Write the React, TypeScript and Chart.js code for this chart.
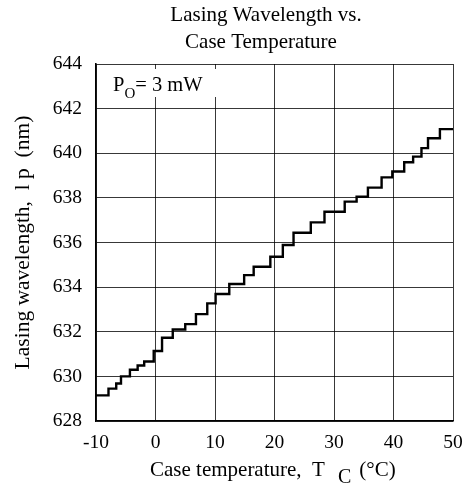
import React, { useEffect, useRef } from "react";
import { Chart, registerables } from "chart.js";

Chart.register(...registerables);

// Step start temperatures (°C) and the wavelength (nm) held from that point on
const temperatures = [
  -10, -7.9, -6.6, -5.8, -4.3, -3.0, -1.9, -0.3, 1.1, 2.9, 5.0, 6.8, 8.7, 10.1,
  12.4, 14.9, 16.5, 19.3, 21.4, 23.2, 26.1, 28.4, 31.8, 33.8, 35.7, 38.0, 39.8,
  41.8, 43.3, 44.7, 45.8, 47.8, 50,
];
const wavelengths = [
  629.15, 629.45, 629.68, 630.0, 630.3, 630.49, 630.67, 631.14, 631.73, 632.1,
  632.34, 632.79, 633.27, 633.69, 634.14, 634.54, 634.91, 635.36, 635.89, 636.44,
  636.9, 637.38, 637.83, 638.05, 638.46, 638.92, 639.18, 639.6, 639.85, 640.23,
  640.67, 641.08, 641.08,
];

const xMin = -10;
const xMax = 50;
const xStep = 10;
const yMin = 628;
const yMax = 644;
const yStep = 2;

const titleLines = ["Lasing Wavelength vs.", "Case Temperature"];
const yAxisTitle = "Lasing wavelength,  l p  (nm)";
const xAxisTitleMain = "Case temperature,  T";
const xAxisTitleSub = "C";
const xAxisTitleTail = "(°C)";
const annotationMain = "P";
const annotationSub = "O";
const annotationTail = "= 3 mW";

const FONT = '"Liberation Serif", "Times New Roman", serif';

export default function App() {
  const ref = useRef<HTMLCanvasElement>(null);

  useEffect(() => {
    if (!ref.current) return;

    const overlay = {
      id: "overlay",
      afterDraw(chart: any) {
        const ctx = chart.ctx as CanvasRenderingContext2D;
        const area = chart.chartArea;
        ctx.save();
        ctx.fillStyle = "#000";

        // Title
        ctx.font = `21px ${FONT}`;
        ctx.textAlign = "center";
        ctx.textBaseline = "alphabetic";
        ctx.fillText(titleLines[0], 266, 21);
        ctx.fillText(titleLines[1], 261, 47.5);

        // Annotation box
        ctx.fillStyle = "#fff";
        ctx.fillRect(area.left + 1.5, area.top + 5, 121, 28);
        ctx.fillStyle = "#000";
        ctx.textAlign = "left";
        ctx.font = `20.5px ${FONT}`;
        ctx.fillText(annotationMain, 113, 91);
        const pw = ctx.measureText(annotationMain).width;
        ctx.font = `15px ${FONT}`;
        ctx.fillText(annotationSub, 113 + pw, 97.5);
        const ow = ctx.measureText(annotationSub).width;
        ctx.font = `20.5px ${FONT}`;
        ctx.fillText(annotationTail, 113 + pw + ow, 91);

        // X axis title
        ctx.font = `21px ${FONT}`;
        ctx.fillText(xAxisTitleMain, 150, 476);
        const mw = ctx.measureText(xAxisTitleMain).width;
        ctx.font = `20px ${FONT}`;
        const cx = 150 + mw + 13;
        ctx.fillText(xAxisTitleSub, cx, 483);
        const sw = ctx.measureText(xAxisTitleSub).width;
        ctx.font = `21px ${FONT}`;
        ctx.fillText(xAxisTitleTail, cx + sw + 8, 476);

        // Y axis title
        ctx.translate(29, (area.top + area.bottom) / 2);
        ctx.rotate(-Math.PI / 2);
        ctx.textAlign = "center";
        ctx.font = `21.5px ${FONT}`;
        ctx.fillText(yAxisTitle, 0, 0);
        ctx.restore();
      },
    };

    const chart = new Chart(ref.current, {
      type: "line",
      data: {
        datasets: [
          {
            data: temperatures.map((t, i) => ({ x: t, y: wavelengths[i] })),
            stepped: "before",
            borderColor: "#000",
            borderWidth: 2.4,
            pointRadius: 0,
            fill: false,
          },
        ],
      },
      options: {
        animation: false,
        responsive: true,
        maintainAspectRatio: false,
        layout: { padding: { top: 64, right: 12, left: 0, bottom: 0 } },
        plugins: {
          legend: { display: false },
          title: { display: false },
          tooltip: { enabled: false },
        },
        scales: {
          x: {
            type: "linear",
            min: xMin,
            max: xMax,
            afterFit(s: any) {
              s.height = 70;
              s.paddingLeft = 0;
              s.paddingRight = 0;
            },
            ticks: {
              stepSize: xStep,
              padding: 10,
              color: "#000",
              font: { family: FONT, size: 19.5 },
              maxRotation: 0,
            },
            grid: {
              color: "rgba(0,0,0,0.78)",
              lineWidth: 1,
              drawTicks: false,
            },
            border: { color: "#000", width: 1.6 },
          },
          y: {
            type: "linear",
            min: yMin,
            max: yMax,
            afterFit(s: any) {
              s.width = 96;
              s.paddingTop = 0;
              s.paddingBottom = 0;
            },
            ticks: {
              stepSize: yStep,
              padding: 14,
              color: "#000",
              font: { family: FONT, size: 19.5 },
            },
            grid: {
              color: "rgba(0,0,0,0.78)",
              lineWidth: 1,
              drawTicks: false,
            },
            border: { color: "#000", width: 1.6 },
          },
        },
      },
      plugins: [overlay],
    });

    return () => chart.destroy();
  }, []);

  return (
    <div
      style={{
        position: "fixed",
        left: 0,
        top: 0,
        width: 465,
        height: 491,
        background: "#fff",
      }}
    >
      <canvas ref={ref} />
    </div>
  );
}
